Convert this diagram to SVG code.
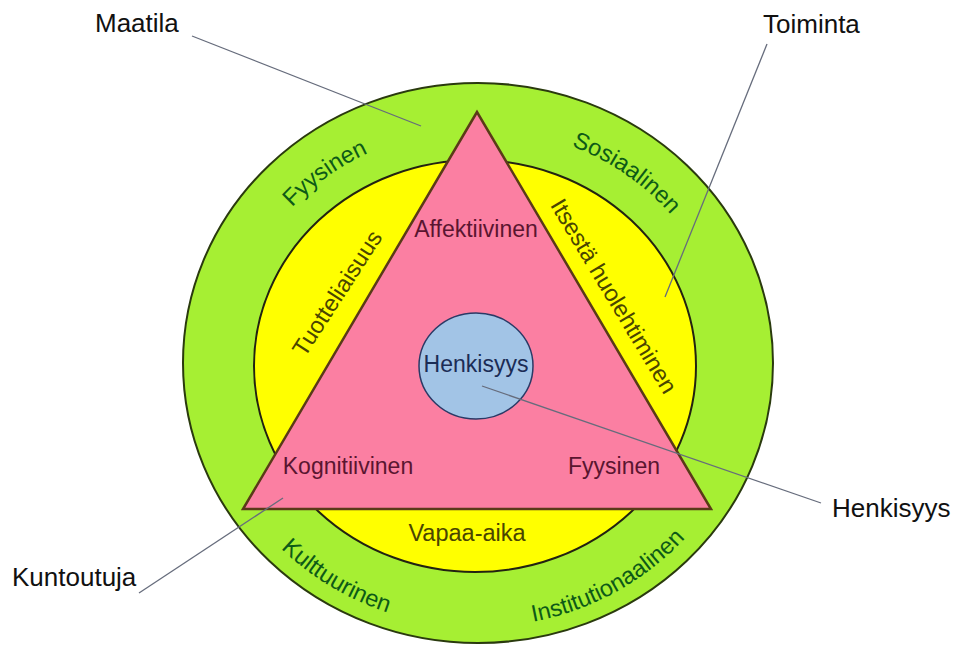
<svg xmlns="http://www.w3.org/2000/svg" width="955" height="645" viewBox="0 0 955 645">
<defs>
<style>
.lbl{font-family:"Liberation Sans",Arial,sans-serif;font-size:26px;fill:#111;}
.ring{font-family:"Liberation Sans",Arial,sans-serif;font-size:23.5px;fill:#0d5a17;}
.yel{font-family:"Liberation Sans",Arial,sans-serif;font-size:23.5px;fill:#4a4500;}
.tri{font-family:"Liberation Sans",Arial,sans-serif;font-size:23px;fill:#5a1530;}
.blu{font-family:"Liberation Sans",Arial,sans-serif;font-size:23px;fill:#1b2c55;}
.lead{stroke:#666c7c;stroke-width:1.3;fill:none;}
</style>
<path id="arcTop" d="M 228 365 A 250 236 0 0 1 728 365"/>
<path id="arcBot" d="M 202 365 A 276 262 0 0 0 754 365"/>
</defs>
<rect width="955" height="645" fill="#ffffff"/>
<g id="outer-ring">
<ellipse cx="478" cy="363" rx="295" ry="280" fill="#a6ef33" stroke="#2a3a0e" stroke-width="2"/>
<text class="ring"><textPath href="#arcTop" startOffset="29%" text-anchor="middle">Fyysinen</textPath></text>
<text class="ring"><textPath href="#arcTop" startOffset="70.5%" text-anchor="middle">Sosiaalinen</textPath></text>
<text class="ring"><textPath href="#arcBot" startOffset="31.7%" text-anchor="middle">Kulttuurinen</textPath></text>
<text class="ring"><textPath href="#arcBot" startOffset="67%" text-anchor="middle">Institutionaalinen</textPath></text>
</g>
<g id="activity-ring">
<ellipse cx="475" cy="366" rx="221" ry="206" fill="#ffff00" stroke="#222211" stroke-width="2"/>
<text class="yel" x="337" y="293" dy="0.35em" text-anchor="middle" transform="rotate(-57 337 293)">Tuotteliaisuus</text>
<text class="yel" x="614" y="296" dy="0.35em" text-anchor="middle" transform="rotate(59 614 296)">Itsestä huolehtiminen</text>
<text class="yel" x="467" y="541" text-anchor="middle">Vapaa-aika</text>
</g>
<g id="person-triangle">
<polygon points="477,112 243,509 711,509" fill="#fb7fa2" stroke="#5a3a18" stroke-width="2.5" stroke-linejoin="miter"/>
<text class="tri" x="476" y="237" text-anchor="middle">Affektiivinen</text>
<text class="tri" x="348" y="474" text-anchor="middle">Kognitiivinen</text>
<text class="tri" x="614" y="474" text-anchor="middle">Fyysinen</text>
</g>
<g id="spirituality">
<ellipse cx="476" cy="366" rx="57" ry="53" fill="#a2c4e6" stroke="#2a3a66" stroke-width="1.5"/>
<text class="blu" x="476" y="372" text-anchor="middle">Henkisyys</text>
</g>
<g id="connectors">
<line class="lead" x1="192" y1="36" x2="421" y2="126"/>
<line class="lead" x1="767" y1="44" x2="665" y2="297"/>
<line class="lead" x1="482" y1="386" x2="821" y2="503"/>
<line class="lead" x1="139" y1="593" x2="283" y2="498"/>
</g>
<g id="label-maatila"><text class="lbl" x="95" y="32">Maatila</text></g>
<g id="label-toiminta"><text class="lbl" x="763" y="33">Toiminta</text></g>
<g id="label-henkisyys"><text class="lbl" x="832" y="517">Henkisyys</text></g>
<g id="label-kuntoutuja"><text class="lbl" x="12" y="586">Kuntoutuja</text></g>
</svg>
